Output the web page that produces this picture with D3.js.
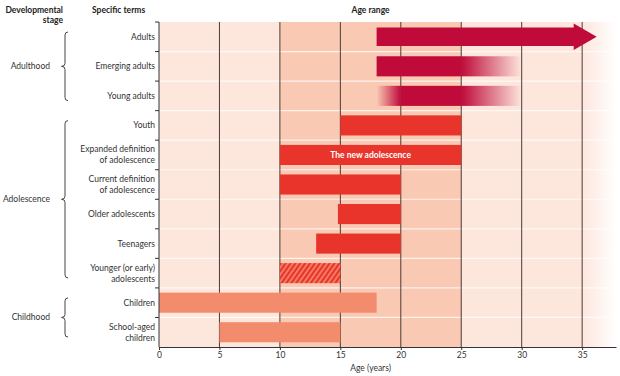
<!DOCTYPE html>
<html>
<head>
<meta charset="utf-8">
<script src="https://cdn.jsdelivr.net/npm/d3@7"></script>
<style>
  body { margin: 0; background: #fff; }
  svg text { font-family: Lato, "Open Sans", sans-serif; }
</style>
</head>
<body>
<div id="chart"></div>
<script>
// rows, top to bottom
var terms = [
  ["Adults"], ["Emerging adults"], ["Young adults"], ["Youth"],
  ["Expanded definition", "of adolescence"], ["Current definition", "of adolescence"],
  ["Older adolescents"], ["Teenagers"], ["Younger (or early)", "adolescents"],
  ["Children"], ["School-aged", "children"]
];
// ages (years): bar start (fade-in begins), solid start, solid end, bar end (fade-out / arrow tip)
var barFrom   = [18, 18, 18, 15, 10, 10, 14.8, 13, 10, 0, 5];
var solidFrom = [18, 18, 20, 15, 10, 10, 14.8, 13, 10, 0, 5];
var solidTo   = [34.3, 25, 25, 25, 25, 20, 20, 20, 15, 18, 15];
var barTo     = [36.2, 30, 30, 25, 25, 20, 20, 20, 15, 18, 15];
var barKind   = ["arrow", "crimson", "crimson", "red", "red", "red", "red", "red", "hatch", "salmon", "salmon"];
var barNote   = ["", "", "", "", "The new adolescence", "", "", "", "", "", ""];

var stages = ["Adulthood", "Adolescence", "Childhood"];
var stageFirst = [0, 3, 9];
var stageLast = [2, 8, 10];

var ageTicks = [0, 5, 10, 15, 20, 25, 30, 35];
var bandFrom = [0, 10, 25];
var bandTo = [10, 25, 37.8];
var bandColor = ["#fde6dc", "#f9c9b3", "#fde6dc"];

function drawChart() {
  const W = 620, H = 376;
  const left = 159, right = 616, top = 22, bottom = 347;
  const colors = { crimson: "#bf0a3a", arrow: "#bf0a3a", red: "#e8342a", salmon: "#f38b6d" };

  const svg = d3.select("#chart").append("svg")
    .attr("width", W).attr("height", H);
  const defs = svg.append("defs");

  const x = d3.scaleLinear().domain([0, 37.8]).range([left, right]);
  const y = d3.scaleBand().domain(d3.range(terms.length)).range([top, bottom]);
  const bw = y.bandwidth();

  // gradients
  function grad(id, color, o1, o2) {
    const g = defs.append("linearGradient").attr("id", id)
      .attr("x1", "0%").attr("x2", "100%").attr("y1", "0%").attr("y2", "0%");
    g.append("stop").attr("offset", "0%").attr("stop-color", color).attr("stop-opacity", o1);
    g.append("stop").attr("offset", "100%").attr("stop-color", color).attr("stop-opacity", o2);
  }
  grad("fadeOut", colors.crimson, 1, 0);
  grad("fadeIn", colors.crimson, 0, 1);
  grad("bgFade", bandColor[2], 1, 0);

  const hatch = defs.append("pattern").attr("id", "hatch")
    .attr("patternUnits", "userSpaceOnUse").attr("width", 4).attr("height", 4)
    .attr("patternTransform", "rotate(35)");
  hatch.append("rect").attr("width", 4).attr("height", 4).attr("fill", "#f37a62");
  hatch.append("rect").attr("width", 2).attr("height", 4).attr("fill", "#e8342a");

  // background bands
  for (let i = 0; i < bandFrom.length; i++) {
    const last = i === bandFrom.length - 1;
    const solidEnd = last ? 35 : bandTo[i];
    svg.append("rect")
      .attr("x", x(bandFrom[i])).attr("y", top)
      .attr("width", x(solidEnd) - x(bandFrom[i])).attr("height", bottom - top)
      .attr("fill", bandColor[i]);
    if (last) {
      svg.append("rect")
        .attr("x", x(35)).attr("y", top)
        .attr("width", x(bandTo[i]) - x(35)).attr("height", bottom - top)
        .attr("fill", "url(#bgFade)");
    }
  }

  // row separators
  svg.selectAll(".sep").data(d3.range(1, terms.length))
    .enter().append("line")
    .attr("x1", left).attr("x2", right)
    .attr("y1", d => y(d)).attr("y2", d => y(d))
    .attr("stroke", "#fff").attr("stroke-opacity", 0.75).attr("stroke-width", 1.2);

  // vertical grid lines
  svg.selectAll(".grid").data(ageTicks.slice(1))
    .enter().append("line")
    .attr("x1", d => x(d)).attr("x2", d => x(d))
    .attr("y1", top).attr("y2", bottom)
    .attr("stroke", "#4a3b36").attr("stroke-width", 1);

  // bars
  const barH = bw * 0.68;
  terms.forEach(function (t, i) {
    const y0 = y(i) + (bw - barH) / 2;
    const kind = barKind[i];
    if (kind === "arrow") {
      const yc = y(i) + bw / 2;
      const bh = barH * 0.92;
      const hh = bw - 3;
      const p = d3.path();
      p.moveTo(x(solidFrom[i]), yc - bh / 2);
      p.lineTo(x(solidTo[i]), yc - bh / 2);
      p.lineTo(x(solidTo[i]), yc - hh / 2);
      p.lineTo(x(barTo[i]), yc);
      p.lineTo(x(solidTo[i]), yc + hh / 2);
      p.lineTo(x(solidTo[i]), yc + bh / 2);
      p.lineTo(x(solidFrom[i]), yc + bh / 2);
      p.closePath();
      svg.append("path").attr("d", p.toString()).attr("fill", colors.arrow);
      return;
    }
    const fill = kind === "hatch" ? "url(#hatch)" : colors[kind];
    svg.append("rect")
      .attr("x", x(solidFrom[i])).attr("y", y0)
      .attr("width", x(solidTo[i]) - x(solidFrom[i])).attr("height", barH)
      .attr("fill", fill);
    if (barFrom[i] < solidFrom[i]) {
      svg.append("rect")
        .attr("x", x(barFrom[i])).attr("y", y0)
        .attr("width", x(solidFrom[i]) - x(barFrom[i])).attr("height", barH)
        .attr("fill", "url(#fadeIn)");
    }
    if (barTo[i] > solidTo[i]) {
      svg.append("rect")
        .attr("x", x(solidTo[i])).attr("y", y0)
        .attr("width", x(barTo[i]) - x(solidTo[i])).attr("height", barH)
        .attr("fill", "url(#fadeOut)");
    }
    if (barNote[i]) {
      svg.append("text")
        .attr("x", (x(solidFrom[i]) + x(solidTo[i])) / 2)
        .attr("y", y(i) + bw / 2 + 3)
        .attr("text-anchor", "middle")
        .attr("fill", "#fff").attr("font-size", 8.5).attr("font-weight", "bold")
        .text(barNote[i]);
    }
  });

  // x axis
  const xAxis = d3.axisBottom(x).tickValues(ageTicks).tickSize(3).tickSizeOuter(0);
  const gx = svg.append("g").attr("transform", "translate(0," + bottom + ")").call(xAxis);
  gx.select(".domain").attr("stroke", "#333");
  gx.selectAll(".tick line").attr("stroke", "#333");
  gx.selectAll(".tick text").attr("font-size", 8.5).attr("fill", "#333")
    .attr("font-family", "Lato, sans-serif").attr("dy", "0.55em");

  // y axis ticks at row boundaries
  svg.append("line").attr("x1", left).attr("x2", left).attr("y1", top).attr("y2", bottom)
    .attr("stroke", "#333");
  svg.selectAll(".ytick").data(d3.range(terms.length))
    .enter().append("line")
    .attr("x1", left - 4).attr("x2", left)
    .attr("y1", d => y(d)).attr("y2", d => y(d))
    .attr("stroke", "#333");

  // row labels
  terms.forEach(function (lines, i) {
    const cy = y(i) + bw / 2;
    const t = svg.append("text")
      .attr("x", left - 4).attr("text-anchor", "end")
      .attr("font-size", 8.5).attr("fill", "#333");
    lines.forEach(function (s, j) {
      t.append("tspan")
        .attr("x", left - 4)
        .attr("y", cy + 3 + (j - (lines.length - 1) / 2) * 11)
        .text(s);
    });
  });

  // stage labels and braces
  stages.forEach(function (s, k) {
    const y1 = y(stageFirst[k]) + 10;
    const y2 = y(stageLast[k]) + bw - 10;
    const ym = (y(stageFirst[k]) + y(stageLast[k]) + bw) / 2;
    const bx = 65;
    const p = d3.path();
    p.moveTo(bx + 3, y1);
    p.quadraticCurveTo(bx, y1, bx, y1 + 3);
    p.lineTo(bx, ym - 3);
    p.quadraticCurveTo(bx, ym, bx - 3.5, ym);
    p.quadraticCurveTo(bx, ym, bx, ym + 3);
    p.lineTo(bx, y2 - 3);
    p.quadraticCurveTo(bx, y2, bx + 3, y2);
    svg.append("path").attr("d", p.toString())
      .attr("fill", "none").attr("stroke", "#444").attr("stroke-width", 1);
    svg.append("text")
      .attr("x", 50).attr("y", ym + 3)
      .attr("text-anchor", "end").attr("font-size", 8.5).attr("fill", "#333")
      .text(s);
  });

  // headers
  const hdr = svg.append("text").attr("text-anchor", "end")
    .attr("font-size", 8.5).attr("font-weight", "bold").attr("fill", "#222");
  hdr.append("tspan").attr("x", 63).attr("y", 13).text("Developmental");
  hdr.append("tspan").attr("x", 63).attr("y", 23).text("stage");
  svg.append("text").attr("x", 92).attr("y", 13)
    .attr("font-size", 8.5).attr("font-weight", "bold").attr("fill", "#222")
    .text("Specific terms");
  svg.append("text").attr("x", x(17.5)).attr("y", 13).attr("text-anchor", "middle")
    .attr("font-size", 8.5).attr("font-weight", "bold").attr("fill", "#222")
    .text("Age range");
  svg.append("text").attr("x", x(17.5)).attr("y", 371).attr("text-anchor", "middle")
    .attr("font-size", 8.5).attr("fill", "#333")
    .text("Age (years)");
}

window.addEventListener('load', function () {
  drawChart();
});
</script>
</body>
</html>
